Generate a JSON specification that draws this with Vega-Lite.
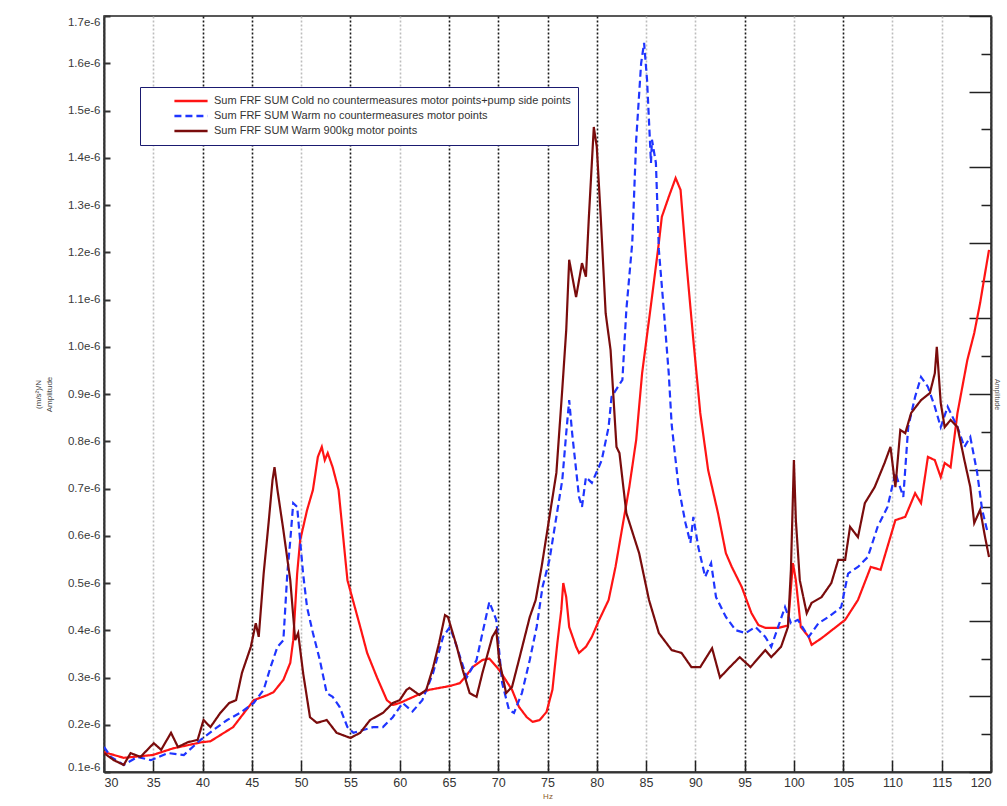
{
  "$schema": "https://vega.github.io/schema/vega-lite/v6.json",
  "width": 887,
  "height": 756,
  "autosize": {"type": "none"},
  "padding": {"left": 104, "top": 16, "right": 16, "bottom": 34},
  "background": "white",
  "config": {
    "view": {"stroke": "#222", "strokeWidth": 1.5},
    "font": "Liberation Sans"
  },
  "data": {"values": [
    {"s":"A","hz":30.0,"amp":0.142},{"s":"A","hz":32.0,"amp":0.13},{"s":"A","hz":34.95,"amp":0.136},{"s":"A","hz":37.0,"amp":0.15},{"s":"A","hz":39.9,"amp":0.163},{"s":"A","hz":40.8,"amp":0.165},{"s":"A","hz":43.1,"amp":0.195},{"s":"A","hz":45.2,"amp":0.252},{"s":"A","hz":46.6,"amp":0.263},{"s":"A","hz":47.2,"amp":0.269},{"s":"A","hz":48.2,"amp":0.295},{"s":"A","hz":48.9,"amp":0.331},{"s":"A","hz":49.2,"amp":0.379},{"s":"A","hz":49.6,"amp":0.52},{"s":"A","hz":49.9,"amp":0.59},{"s":"A","hz":50.6,"amp":0.654},{"s":"A","hz":51.2,"amp":0.697},{"s":"A","hz":51.7,"amp":0.767},{"s":"A","hz":52.1,"amp":0.788},{"s":"A","hz":52.4,"amp":0.76},{"s":"A","hz":52.7,"amp":0.775},{"s":"A","hz":53.2,"amp":0.745},{"s":"A","hz":53.8,"amp":0.697},{"s":"A","hz":54.7,"amp":0.506},{"s":"A","hz":56.0,"amp":0.407},{"s":"A","hz":56.7,"amp":0.352},{"s":"A","hz":57.7,"amp":0.30},{"s":"A","hz":58.7,"amp":0.252},{"s":"A","hz":59.3,"amp":0.242},{"s":"A","hz":60.0,"amp":0.246},{"s":"A","hz":63.0,"amp":0.274},{"s":"A","hz":65.1,"amp":0.282},{"s":"A","hz":66.1,"amp":0.288},{"s":"A","hz":66.8,"amp":0.305},{"s":"A","hz":67.4,"amp":0.322},{"s":"A","hz":68.4,"amp":0.337},{"s":"A","hz":69.1,"amp":0.34},{"s":"A","hz":70.1,"amp":0.316},{"s":"A","hz":71.4,"amp":0.274},{"s":"A","hz":72.1,"amp":0.238},{"s":"A","hz":72.9,"amp":0.216},{"s":"A","hz":73.5,"amp":0.206},{"s":"A","hz":74.2,"amp":0.21},{"s":"A","hz":74.9,"amp":0.227},{"s":"A","hz":75.5,"amp":0.274},{"s":"A","hz":76.0,"amp":0.373},{"s":"A","hz":76.4,"amp":0.443},{"s":"A","hz":76.6,"amp":0.50},{"s":"A","hz":76.9,"amp":0.47},{"s":"A","hz":77.2,"amp":0.407},{"s":"A","hz":77.9,"amp":0.365},{"s":"A","hz":78.2,"amp":0.352},{"s":"A","hz":78.9,"amp":0.365},{"s":"A","hz":79.5,"amp":0.386},{"s":"A","hz":80.2,"amp":0.42},{"s":"A","hz":81.2,"amp":0.464},{"s":"A","hz":81.9,"amp":0.534},{"s":"A","hz":82.6,"amp":0.619},{"s":"A","hz":83.3,"amp":0.703},{"s":"A","hz":84.0,"amp":0.803},{"s":"A","hz":84.6,"amp":0.944},{"s":"A","hz":85.6,"amp":1.105},{"s":"A","hz":86.3,"amp":1.22},{"s":"A","hz":86.6,"amp":1.275},{"s":"A","hz":87.3,"amp":1.317},{"s":"A","hz":88.0,"amp":1.357},{"s":"A","hz":88.5,"amp":1.332},{"s":"A","hz":89.1,"amp":1.177},{"s":"A","hz":89.8,"amp":1.014},{"s":"A","hz":90.5,"amp":0.86},{"s":"A","hz":91.3,"amp":0.739},{"s":"A","hz":92.3,"amp":0.648},{"s":"A","hz":93.1,"amp":0.563},{"s":"A","hz":93.7,"amp":0.534},{"s":"A","hz":94.7,"amp":0.492},{"s":"A","hz":95.7,"amp":0.436},{"s":"A","hz":96.4,"amp":0.411},{"s":"A","hz":97.1,"amp":0.405},{"s":"A","hz":98.4,"amp":0.405},{"s":"A","hz":99.4,"amp":0.41},{"s":"A","hz":99.9,"amp":0.542},{"s":"A","hz":100.2,"amp":0.506},{"s":"A","hz":100.7,"amp":0.407},{"s":"A","hz":101.5,"amp":0.386},{"s":"A","hz":101.8,"amp":0.369},{"s":"A","hz":102.8,"amp":0.383},{"s":"A","hz":105.2,"amp":0.422},{"s":"A","hz":106.5,"amp":0.464},{"s":"A","hz":107.8,"amp":0.534},{"s":"A","hz":108.8,"amp":0.528},{"s":"A","hz":110.3,"amp":0.633},{"s":"A","hz":111.3,"amp":0.64},{"s":"A","hz":112.3,"amp":0.69},{"s":"A","hz":112.9,"amp":0.669},{"s":"A","hz":113.6,"amp":0.767},{"s":"A","hz":114.3,"amp":0.76},{"s":"A","hz":114.9,"amp":0.724},{"s":"A","hz":115.3,"amp":0.754},{"s":"A","hz":115.9,"amp":0.745},{"s":"A","hz":116.6,"amp":0.86},{"s":"A","hz":117.6,"amp":0.972},{"s":"A","hz":118.3,"amp":1.029},{"s":"A","hz":118.9,"amp":1.093},{"s":"A","hz":119.4,"amp":1.156},{"s":"A","hz":119.8,"amp":1.205},

    {"s":"B","hz":30.0,"amp":0.153},{"s":"B","hz":30.7,"amp":0.132},{"s":"B","hz":32.0,"amp":0.115},{"s":"B","hz":33.4,"amp":0.132},{"s":"B","hz":34.75,"amp":0.125},{"s":"B","hz":36.5,"amp":0.14},{"s":"B","hz":38.1,"amp":0.136},{"s":"B","hz":39.8,"amp":0.168},{"s":"B","hz":41.1,"amp":0.189},{"s":"B","hz":42.5,"amp":0.21},{"s":"B","hz":43.8,"amp":0.225},{"s":"B","hz":45.2,"amp":0.246},{"s":"B","hz":46.2,"amp":0.274},{"s":"B","hz":46.9,"amp":0.322},{"s":"B","hz":47.6,"amp":0.365},{"s":"B","hz":48.2,"amp":0.379},{"s":"B","hz":48.6,"amp":0.52},{"s":"B","hz":48.9,"amp":0.59},{"s":"B","hz":49.2,"amp":0.669},{"s":"B","hz":49.6,"amp":0.661},{"s":"B","hz":49.9,"amp":0.59},{"s":"B","hz":50.2,"amp":0.52},{"s":"B","hz":50.6,"amp":0.449},{"s":"B","hz":51.2,"amp":0.394},{"s":"B","hz":51.9,"amp":0.337},{"s":"B","hz":52.6,"amp":0.267},{"s":"B","hz":53.2,"amp":0.259},{"s":"B","hz":53.9,"amp":0.238},{"s":"B","hz":54.7,"amp":0.195},{"s":"B","hz":55.3,"amp":0.183},{"s":"B","hz":56.3,"amp":0.189},{"s":"B","hz":57.3,"amp":0.195},{"s":"B","hz":58.3,"amp":0.195},{"s":"B","hz":59.3,"amp":0.216},{"s":"B","hz":60.3,"amp":0.246},{"s":"B","hz":61.3,"amp":0.228},{"s":"B","hz":62.3,"amp":0.252},{"s":"B","hz":63.4,"amp":0.31},{"s":"B","hz":64.4,"amp":0.386},{"s":"B","hz":65.1,"amp":0.407},{"s":"B","hz":65.8,"amp":0.365},{"s":"B","hz":66.8,"amp":0.30},{"s":"B","hz":67.8,"amp":0.337},{"s":"B","hz":68.4,"amp":0.394},{"s":"B","hz":69.1,"amp":0.46},{"s":"B","hz":69.8,"amp":0.422},{"s":"B","hz":70.4,"amp":0.288},{"s":"B","hz":71.1,"amp":0.231},{"s":"B","hz":71.6,"amp":0.225},{"s":"B","hz":72.4,"amp":0.267},{"s":"B","hz":73.2,"amp":0.337},{"s":"B","hz":73.9,"amp":0.407},{"s":"B","hz":74.5,"amp":0.492},{"s":"B","hz":75.2,"amp":0.549},{"s":"B","hz":75.9,"amp":0.64},{"s":"B","hz":76.5,"amp":0.718},{"s":"B","hz":76.9,"amp":0.817},{"s":"B","hz":77.2,"amp":0.887},{"s":"B","hz":77.5,"amp":0.817},{"s":"B","hz":78.2,"amp":0.682},{"s":"B","hz":78.5,"amp":0.661},{"s":"B","hz":78.9,"amp":0.724},{"s":"B","hz":79.5,"amp":0.712},{"s":"B","hz":80.2,"amp":0.745},{"s":"B","hz":80.5,"amp":0.76},{"s":"B","hz":81.2,"amp":0.83},{"s":"B","hz":81.5,"amp":0.894},{"s":"B","hz":82.6,"amp":0.93},{"s":"B","hz":83.0,"amp":1.078},{"s":"B","hz":83.6,"amp":1.22},{"s":"B","hz":84.0,"amp":1.438},{"s":"B","hz":84.5,"amp":1.60},{"s":"B","hz":84.8,"amp":1.643},{"s":"B","hz":85.1,"amp":1.565},{"s":"B","hz":85.5,"amp":1.389},{"s":"B","hz":85.6,"amp":1.438},{"s":"B","hz":86.0,"amp":1.389},{"s":"B","hz":86.3,"amp":1.205},{"s":"B","hz":86.8,"amp":1.078},{"s":"B","hz":87.3,"amp":0.944},{"s":"B","hz":87.6,"amp":0.835},{"s":"B","hz":88.3,"amp":0.703},{"s":"B","hz":89.0,"amp":0.627},{"s":"B","hz":89.5,"amp":0.585},{"s":"B","hz":89.8,"amp":0.64},{"s":"B","hz":90.3,"amp":0.576},{"s":"B","hz":91.0,"amp":0.513},{"s":"B","hz":91.6,"amp":0.542},{"s":"B","hz":92.1,"amp":0.47},{"s":"B","hz":93.1,"amp":0.428},{"s":"B","hz":94.1,"amp":0.40},{"s":"B","hz":95.1,"amp":0.394},{"s":"B","hz":96.1,"amp":0.407},{"s":"B","hz":97.1,"amp":0.386},{"s":"B","hz":97.7,"amp":0.365},{"s":"B","hz":98.4,"amp":0.407},{"s":"B","hz":99.1,"amp":0.449},{"s":"B","hz":99.7,"amp":0.415},{"s":"B","hz":100.4,"amp":0.422},{"s":"B","hz":101.5,"amp":0.386},{"s":"B","hz":102.5,"amp":0.415},{"s":"B","hz":103.5,"amp":0.428},{"s":"B","hz":104.8,"amp":0.449},{"s":"B","hz":105.5,"amp":0.52},{"s":"B","hz":106.5,"amp":0.534},{"s":"B","hz":107.5,"amp":0.555},{"s":"B","hz":108.5,"amp":0.619},{"s":"B","hz":109.5,"amp":0.661},{"s":"B","hz":110.3,"amp":0.733},{"s":"B","hz":111.1,"amp":0.682},{"s":"B","hz":111.6,"amp":0.83},{"s":"B","hz":112.3,"amp":0.894},{"s":"B","hz":112.9,"amp":0.936},{"s":"B","hz":113.6,"amp":0.915},{"s":"B","hz":114.3,"amp":0.873},{"s":"B","hz":114.9,"amp":0.83},{"s":"B","hz":115.6,"amp":0.873},{"s":"B","hz":116.6,"amp":0.83},{"s":"B","hz":117.3,"amp":0.788},{"s":"B","hz":117.9,"amp":0.809},{"s":"B","hz":118.6,"amp":0.733},{"s":"B","hz":119.1,"amp":0.655},{"s":"B","hz":119.6,"amp":0.612},

    {"s":"C","hz":30.0,"amp":0.14},{"s":"C","hz":31.0,"amp":0.125},{"s":"C","hz":32.0,"amp":0.115},{"s":"C","hz":32.7,"amp":0.14},{"s":"C","hz":33.7,"amp":0.132},{"s":"C","hz":35.05,"amp":0.161},{"s":"C","hz":35.8,"amp":0.147},{"s":"C","hz":36.8,"amp":0.183},{"s":"C","hz":37.5,"amp":0.153},{"s":"C","hz":38.5,"amp":0.163},{"s":"C","hz":39.5,"amp":0.168},{"s":"C","hz":40.1,"amp":0.21},{"s":"C","hz":40.8,"amp":0.195},{"s":"C","hz":41.8,"amp":0.225},{"s":"C","hz":42.7,"amp":0.246},{"s":"C","hz":43.4,"amp":0.252},{"s":"C","hz":44.0,"amp":0.31},{"s":"C","hz":44.9,"amp":0.365},{"s":"C","hz":45.4,"amp":0.415},{"s":"C","hz":45.7,"amp":0.386},{"s":"C","hz":46.2,"amp":0.52},{"s":"C","hz":46.7,"amp":0.627},{"s":"C","hz":47.1,"amp":0.718},{"s":"C","hz":47.3,"amp":0.745},{"s":"C","hz":47.6,"amp":0.697},{"s":"C","hz":48.2,"amp":0.612},{"s":"C","hz":48.9,"amp":0.506},{"s":"C","hz":49.4,"amp":0.379},{"s":"C","hz":49.7,"amp":0.394},{"s":"C","hz":50.2,"amp":0.31},{"s":"C","hz":50.9,"amp":0.216},{"s":"C","hz":51.6,"amp":0.204},{"s":"C","hz":52.6,"amp":0.21},{"s":"C","hz":53.6,"amp":0.183},{"s":"C","hz":55.0,"amp":0.172},{"s":"C","hz":56.0,"amp":0.183},{"s":"C","hz":57.0,"amp":0.21},{"s":"C","hz":58.3,"amp":0.225},{"s":"C","hz":59.3,"amp":0.246},{"s":"C","hz":60.0,"amp":0.252},{"s":"C","hz":60.7,"amp":0.274},{"s":"C","hz":61.0,"amp":0.278},{"s":"C","hz":62.0,"amp":0.263},{"s":"C","hz":62.7,"amp":0.274},{"s":"C","hz":63.4,"amp":0.322},{"s":"C","hz":64.0,"amp":0.373},{"s":"C","hz":64.6,"amp":0.432},{"s":"C","hz":64.9,"amp":0.428},{"s":"C","hz":65.8,"amp":0.365},{"s":"C","hz":66.4,"amp":0.316},{"s":"C","hz":67.1,"amp":0.267},{"s":"C","hz":67.8,"amp":0.259},{"s":"C","hz":68.4,"amp":0.31},{"s":"C","hz":69.4,"amp":0.386},{"s":"C","hz":69.8,"amp":0.40},{"s":"C","hz":70.1,"amp":0.337},{"s":"C","hz":70.8,"amp":0.267},{"s":"C","hz":71.4,"amp":0.28},{"s":"C","hz":72.1,"amp":0.337},{"s":"C","hz":73.2,"amp":0.428},{"s":"C","hz":73.8,"amp":0.464},{"s":"C","hz":74.4,"amp":0.534},{"s":"C","hz":75.9,"amp":0.733},{"s":"C","hz":76.5,"amp":0.91},{"s":"C","hz":76.9,"amp":1.035},{"s":"C","hz":77.2,"amp":1.184},{"s":"C","hz":77.9,"amp":1.105},{"s":"C","hz":78.5,"amp":1.177},{"s":"C","hz":78.9,"amp":1.148},{"s":"C","hz":79.2,"amp":1.275},{"s":"C","hz":79.7,"amp":1.465},{"s":"C","hz":80.0,"amp":1.423},{"s":"C","hz":80.4,"amp":1.275},{"s":"C","hz":80.9,"amp":1.071},{"s":"C","hz":81.4,"amp":0.993},{"s":"C","hz":82.0,"amp":0.788},{"s":"C","hz":82.3,"amp":0.775},{"s":"C","hz":83.0,"amp":0.648},{"s":"C","hz":84.3,"amp":0.563},{"s":"C","hz":85.3,"amp":0.464},{"s":"C","hz":86.3,"amp":0.394},{"s":"C","hz":87.6,"amp":0.358},{"s":"C","hz":88.6,"amp":0.352},{"s":"C","hz":89.6,"amp":0.322},{"s":"C","hz":90.5,"amp":0.322},{"s":"C","hz":91.7,"amp":0.362},{"s":"C","hz":92.5,"amp":0.30},{"s":"C","hz":93.5,"amp":0.322},{"s":"C","hz":94.5,"amp":0.343},{"s":"C","hz":95.6,"amp":0.322},{"s":"C","hz":97.1,"amp":0.358},{"s":"C","hz":97.7,"amp":0.343},{"s":"C","hz":98.7,"amp":0.365},{"s":"C","hz":99.4,"amp":0.407},{"s":"C","hz":99.7,"amp":0.528},{"s":"C","hz":100.0,"amp":0.76},{"s":"C","hz":100.2,"amp":0.633},{"s":"C","hz":100.6,"amp":0.506},{"s":"C","hz":101.3,"amp":0.436},{"s":"C","hz":101.8,"amp":0.458},{"s":"C","hz":102.8,"amp":0.47},{"s":"C","hz":103.8,"amp":0.50},{"s":"C","hz":104.5,"amp":0.549},{"s":"C","hz":105.2,"amp":0.549},{"s":"C","hz":105.7,"amp":0.619},{"s":"C","hz":106.5,"amp":0.597},{"s":"C","hz":107.2,"amp":0.669},{"s":"C","hz":108.2,"amp":0.703},{"s":"C","hz":109.2,"amp":0.754},{"s":"C","hz":109.8,"amp":0.788},{"s":"C","hz":110.3,"amp":0.703},{"s":"C","hz":110.8,"amp":0.824},{"s":"C","hz":111.3,"amp":0.817},{"s":"C","hz":111.9,"amp":0.86},{"s":"C","hz":112.9,"amp":0.887},{"s":"C","hz":113.8,"amp":0.902},{"s":"C","hz":114.3,"amp":0.944},{"s":"C","hz":114.5,"amp":1.0},{"s":"C","hz":114.9,"amp":0.881},{"s":"C","hz":115.3,"amp":0.83},{"s":"C","hz":115.9,"amp":0.845},{"s":"C","hz":116.6,"amp":0.83},{"s":"C","hz":117.3,"amp":0.76},{"s":"C","hz":117.9,"amp":0.703},{"s":"C","hz":118.3,"amp":0.627},{"s":"C","hz":118.9,"amp":0.655},{"s":"C","hz":119.4,"amp":0.597},{"s":"C","hz":119.8,"amp":0.555}
  ]},
  "layer": [
    {
      "mark": {"type": "line", "strokeWidth": 2.2, "clip": true},
      "encoding": {
        "x": {
          "field": "hz", "type": "quantitative",
          "scale": {"domain": [30, 120], "nice": false},
          "axis": {
            "title": "Hz", "titleFontSize": 8, "titleColor": "#8a5a2a", "titlePadding": 4, "titleFontWeight": "normal",
            "values": [30,35,40,45,50,55,60,65,70,75,80,85,90,95,100,105,110,115,120],
            "labelFlush": true, "labelFontSize": 12.5, "labelColor": "#333", "labelPadding": 16,
            "domainColor": "#333", "domainWidth": 2,
            "tickSize": -12, "tickColor": "#222", "tickWidth": 1.5,
            "grid": true, "gridDash": [2, 2], "gridWidth": 1.6,
            "gridColor": {"condition": {"test": "datum.value == 40 || datum.value == 45 || datum.value == 55 || datum.value == 65 || datum.value == 70 || datum.value == 75 || datum.value == 80 || datum.value == 95 || datum.value == 105", "value": "#1a1a1a"}, "value": "#bdbdbd"}
          }
        },
        "y": {
          "field": "amp", "type": "quantitative",
          "scale": {"domain": [0.1, 1.7], "nice": false, "zero": false},
          "axis": {
            "title": ["(m/s²)/N", "Amplitude"], "titleFontSize": 8, "titleColor": "#444", "titleFontWeight": "normal", "titlePadding": 14, "titleLineHeight": 11,
            "values": [0.1,0.2,0.3,0.4,0.5,0.6,0.7,0.8,0.9,1.0,1.1,1.2,1.3,1.4,1.5,1.6,1.7],
            "labelExpr": "format(datum.value, '.1f') + 'e-6'",
            "labelFontSize": 11.5, "labelColor": "#3a3a3a", "labelPadding": 10, "labelFlush": true,
            "domainColor": "#333", "domainWidth": 2,
            "tickSize": -6, "tickColor": "#333", "tickWidth": 2,
            "grid": false
          }
        },
        "color": {
          "field": "s", "type": "nominal",
          "scale": {"domain": ["A", "B", "C"], "range": ["#ff1414", "#1f35ff", "#7a0c0c"]},
          "legend": {
            "title": null, "orient": "none", "legendX": 36, "legendY": 71,
            "direction": "vertical",
            "labelExpr": "datum.label === 'A' ? 'Sum FRF SUM Cold no countermeasures motor points+pump side points' : datum.label === 'B' ? 'Sum FRF SUM Warm no countermeasures motor points' : 'Sum FRF SUM Warm 900kg motor points'",
            "labelFontSize": 11, "labelColor": "#333", "labelLimit": 500, "labelOffset": 5,
            "symbolType": "stroke", "symbolSize": 1100, "symbolStrokeWidth": 2.5, "symbolOffset": 26,
            "clipHeight": 14, "rowPadding": 1,
            "strokeColor": "#1a1a70", "fillColor": "white", "padding": 7, "cornerRadius": 0
          }
        },
        "strokeDash": {
          "field": "s", "type": "nominal",
          "scale": {"domain": ["A", "B", "C"], "range": [[1, 0], [7, 4], [1, 0]]},
          "legend": null
        }
      }
    },
    {
      "mark": {"type": "point", "opacity": 0, "clip": true},
      "encoding": {
        "x": {"field": "hz", "type": "quantitative"},
        "y": {
          "field": "amp", "type": "quantitative",
          "scale": {"domain": [0, 1], "nice": false, "zero": false},
          "axis": {
            "orient": "right", "title": "Amplitude", "titleFontSize": 7, "titleColor": "#555", "titleFontWeight": "normal", "titlePadding": 2,
            "values": [0,0.05,0.1,0.15,0.2,0.25,0.3,0.35,0.4,0.45,0.5,0.55,0.6,0.65,0.7,0.75,0.8,0.85,0.9,0.95,1],
            "labels": false,
            "domainColor": "#333", "domainWidth": 2,
            "tickColor": "#222", "tickWidth": 1.5,
            "tickSize": {"condition": {"test": "round(datum.value * 20) % 2 === 0", "value": -22}, "value": -10},
            "grid": false
          }
        }
      }
    }
  ],
  "resolve": {"scale": {"y": "independent"}, "axis": {"y": "independent"}}
}
